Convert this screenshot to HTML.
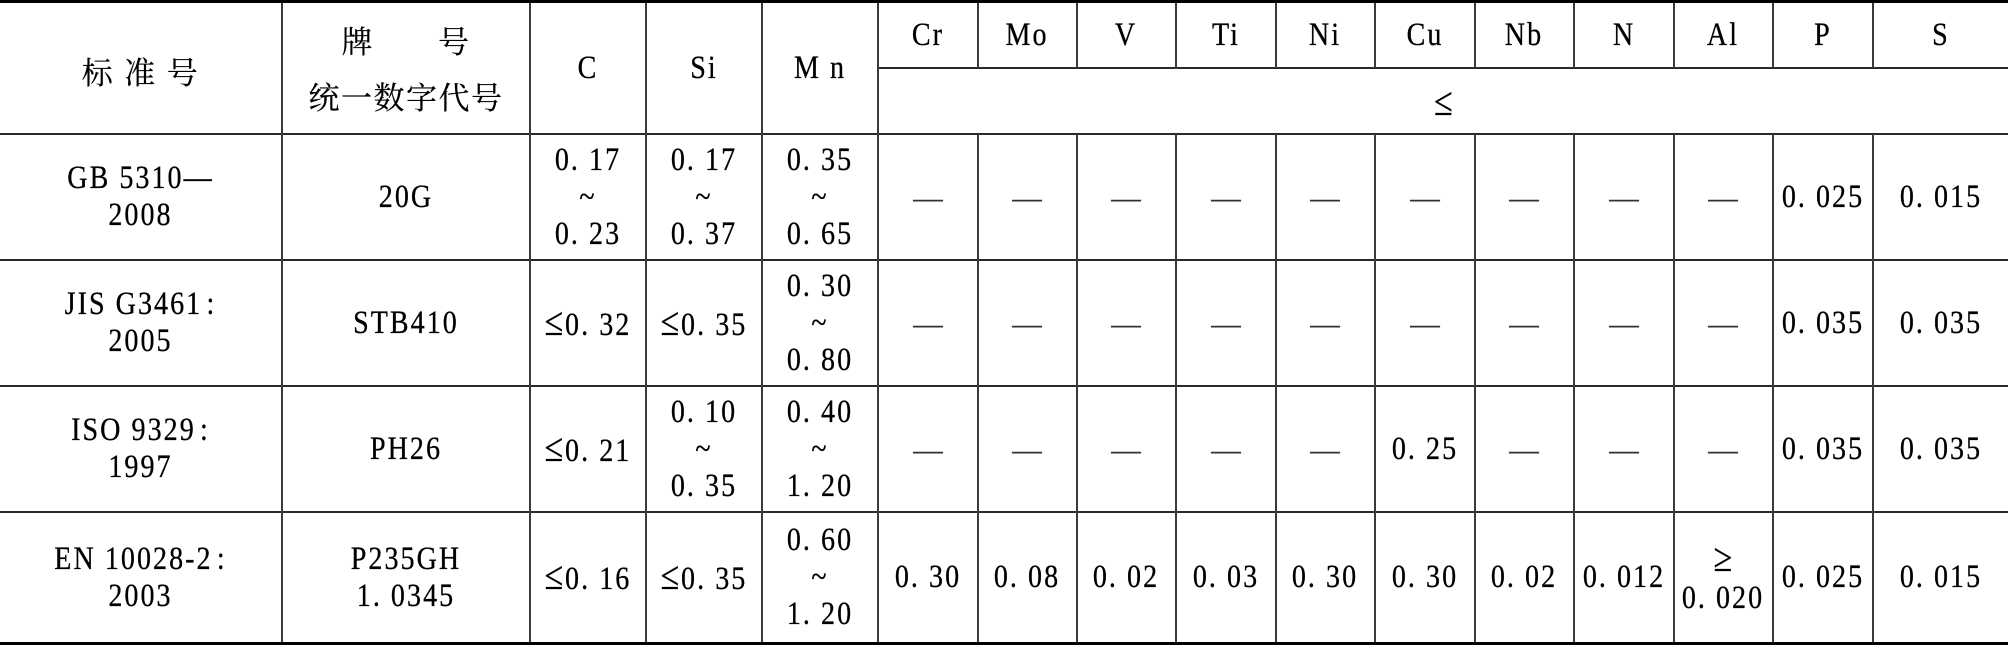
<!DOCTYPE html>
<html>
<head>
<meta charset="utf-8">
<style>
html,body{margin:0;padding:0;background:#fff;}
body{width:2008px;height:645px;position:relative;overflow:hidden;}
.h{position:absolute;background:#2a2a2a;height:2px;}
.v{position:absolute;background:#3a3a3a;width:2px;}
.c{position:absolute;display:flex;align-items:center;justify-content:center;text-align:center;
   font-family:"Liberation Serif","Noto Serif CJK SC",serif;font-size:33px;letter-spacing:2.4px;
   line-height:37px;color:#000;white-space:nowrap;transform:scaleX(0.85);transform-origin:50% 50%;
   -webkit-text-stroke:0.3px #000;}
.cj{font-family:"Noto Serif CJK SC","Noto Sans CJK SC",serif;font-size:31px;letter-spacing:1.5px;line-height:56px;transform:none;-webkit-text-stroke:0.2px #000;}
.le{font-family:"Liberation Serif",serif;font-size:40px;margin-right:2px;letter-spacing:0;}
.col{margin-left:5px;}
.d{color:#333;font-size:35px;letter-spacing:0;-webkit-text-stroke:0;}
</style>
</head>
<body>
<!-- horizontal lines -->
<div class="h" style="left:0;top:0;width:2008px;height:3px;background:#000;"></div>
<div class="h" style="left:878px;top:67px;width:1130px;"></div>
<div class="h" style="left:0;top:133px;width:2008px;"></div>
<div class="h" style="left:0;top:259px;width:2008px;"></div>
<div class="h" style="left:0;top:385px;width:2008px;"></div>
<div class="h" style="left:0;top:511px;width:2008px;"></div>
<div class="h" style="left:0;top:642px;width:2008px;height:3px;background:#000;"></div>

<!-- full-height verticals -->
<div class="v" style="left:281px;top:3px;height:639px;"></div>
<div class="v" style="left:529px;top:3px;height:639px;"></div>
<div class="v" style="left:645px;top:3px;height:639px;"></div>
<div class="v" style="left:761px;top:3px;height:639px;"></div>
<div class="v" style="left:877px;top:3px;height:639px;"></div>
<!-- element verticals (top part) -->
<div class="v" style="left:977px;top:3px;height:65px;"></div>
<div class="v" style="left:1076px;top:3px;height:65px;"></div>
<div class="v" style="left:1175px;top:3px;height:65px;"></div>
<div class="v" style="left:1275px;top:3px;height:65px;"></div>
<div class="v" style="left:1374px;top:3px;height:65px;"></div>
<div class="v" style="left:1474px;top:3px;height:65px;"></div>
<div class="v" style="left:1573px;top:3px;height:65px;"></div>
<div class="v" style="left:1673px;top:3px;height:65px;"></div>
<div class="v" style="left:1772px;top:3px;height:65px;"></div>
<div class="v" style="left:1872px;top:3px;height:65px;"></div>
<!-- element verticals (body part) -->
<div class="v" style="left:977px;top:134px;height:508px;"></div>
<div class="v" style="left:1076px;top:134px;height:508px;"></div>
<div class="v" style="left:1175px;top:134px;height:508px;"></div>
<div class="v" style="left:1275px;top:134px;height:508px;"></div>
<div class="v" style="left:1374px;top:134px;height:508px;"></div>
<div class="v" style="left:1474px;top:134px;height:508px;"></div>
<div class="v" style="left:1573px;top:134px;height:508px;"></div>
<div class="v" style="left:1673px;top:134px;height:508px;"></div>
<div class="v" style="left:1772px;top:134px;height:508px;"></div>
<div class="v" style="left:1872px;top:134px;height:508px;"></div>

<!-- header -->
<div class="c cj" style="left:0;top:3px;width:281px;height:136px;"><span>标<span style="display:inline-block;width:10px"></span>准<span style="display:inline-block;width:10px"></span>号</span></div>
<div class="c cj" style="left:283px;top:3px;width:246px;height:130px;"><span>牌<span style="display:inline-block;width:64px"></span>号<br>统一数字代号</span></div>
<div class="c" style="left:531px;top:3px;width:114px;height:130px;">C</div>
<div class="c" style="left:647px;top:3px;width:114px;height:130px;">Si</div>
<div class="c" style="left:763px;top:3px;width:114px;height:130px;">M n</div>

<div class="c" style="left:879px;top:3px;width:98px;height:64px;">Cr</div>
<div class="c" style="left:978px;top:3px;width:98px;height:64px;">Mo</div>
<div class="c" style="left:1077px;top:3px;width:98px;height:64px;">V</div>
<div class="c" style="left:1177px;top:3px;width:98px;height:64px;">Ti</div>
<div class="c" style="left:1276px;top:3px;width:98px;height:64px;">Ni</div>
<div class="c" style="left:1376px;top:3px;width:98px;height:64px;">Cu</div>
<div class="c" style="left:1475px;top:3px;width:98px;height:64px;">Nb</div>
<div class="c" style="left:1575px;top:3px;width:98px;height:64px;">N</div>
<div class="c" style="left:1674px;top:3px;width:98px;height:64px;">Al</div>
<div class="c" style="left:1774px;top:3px;width:98px;height:64px;">P</div>
<div class="c" style="left:1874px;top:3px;width:134px;height:64px;">S</div>
<div class="c" style="left:879px;top:69px;width:1129px;height:64px;"><span class="le" style="margin:0">≤</span></div>

<!-- row 1 -->
<div class="c" style="left:0;top:135px;width:281px;height:124px;">GB 5310—<br>2008</div>
<div class="c" style="left:283px;top:135px;width:246px;height:124px;">20G</div>
<div class="c" style="left:531px;top:135px;width:114px;height:124px;">0. 17<br>~<br>0. 23</div>
<div class="c" style="left:647px;top:135px;width:114px;height:124px;">0. 17<br>~<br>0. 37</div>
<div class="c" style="left:763px;top:135px;width:114px;height:124px;">0. 35<br>~<br>0. 65</div>
<div class="c d" style="left:879px;top:135px;width:98px;height:124px;">—</div>
<div class="c d" style="left:978px;top:135px;width:98px;height:124px;">—</div>
<div class="c d" style="left:1077px;top:135px;width:98px;height:124px;">—</div>
<div class="c d" style="left:1177px;top:135px;width:98px;height:124px;">—</div>
<div class="c d" style="left:1276px;top:135px;width:98px;height:124px;">—</div>
<div class="c d" style="left:1376px;top:135px;width:98px;height:124px;">—</div>
<div class="c d" style="left:1475px;top:135px;width:98px;height:124px;">—</div>
<div class="c d" style="left:1575px;top:135px;width:98px;height:124px;">—</div>
<div class="c d" style="left:1674px;top:135px;width:98px;height:124px;">—</div>
<div class="c" style="left:1774px;top:135px;width:98px;height:124px;">0. 025</div>
<div class="c" style="left:1874px;top:135px;width:134px;height:124px;">0. 015</div>

<!-- row 2 -->
<div class="c" style="left:0;top:261px;width:281px;height:124px;"><span>JIS G3461<span class="col">:</span><br>2005</span></div>
<div class="c" style="left:283px;top:261px;width:246px;height:124px;">STB410</div>
<div class="c" style="left:531px;top:261px;width:114px;height:124px;"><span><span class="le">≤</span>0. 32</span></div>
<div class="c" style="left:647px;top:261px;width:114px;height:124px;"><span><span class="le">≤</span>0. 35</span></div>
<div class="c" style="left:763px;top:261px;width:114px;height:124px;">0. 30<br>~<br>0. 80</div>
<div class="c d" style="left:879px;top:261px;width:98px;height:124px;">—</div>
<div class="c d" style="left:978px;top:261px;width:98px;height:124px;">—</div>
<div class="c d" style="left:1077px;top:261px;width:98px;height:124px;">—</div>
<div class="c d" style="left:1177px;top:261px;width:98px;height:124px;">—</div>
<div class="c d" style="left:1276px;top:261px;width:98px;height:124px;">—</div>
<div class="c d" style="left:1376px;top:261px;width:98px;height:124px;">—</div>
<div class="c d" style="left:1475px;top:261px;width:98px;height:124px;">—</div>
<div class="c d" style="left:1575px;top:261px;width:98px;height:124px;">—</div>
<div class="c d" style="left:1674px;top:261px;width:98px;height:124px;">—</div>
<div class="c" style="left:1774px;top:261px;width:98px;height:124px;">0. 035</div>
<div class="c" style="left:1874px;top:261px;width:134px;height:124px;">0. 035</div>

<!-- row 3 -->
<div class="c" style="left:0;top:387px;width:281px;height:124px;"><span>ISO 9329<span class="col">:</span><br>1997</span></div>
<div class="c" style="left:283px;top:387px;width:246px;height:124px;">PH26</div>
<div class="c" style="left:531px;top:387px;width:114px;height:124px;"><span><span class="le">≤</span>0. 21</span></div>
<div class="c" style="left:647px;top:387px;width:114px;height:124px;">0. 10<br>~<br>0. 35</div>
<div class="c" style="left:763px;top:387px;width:114px;height:124px;">0. 40<br>~<br>1. 20</div>
<div class="c d" style="left:879px;top:387px;width:98px;height:124px;">—</div>
<div class="c d" style="left:978px;top:387px;width:98px;height:124px;">—</div>
<div class="c d" style="left:1077px;top:387px;width:98px;height:124px;">—</div>
<div class="c d" style="left:1177px;top:387px;width:98px;height:124px;">—</div>
<div class="c d" style="left:1276px;top:387px;width:98px;height:124px;">—</div>
<div class="c" style="left:1376px;top:387px;width:98px;height:124px;">0. 25</div>
<div class="c d" style="left:1475px;top:387px;width:98px;height:124px;">—</div>
<div class="c d" style="left:1575px;top:387px;width:98px;height:124px;">—</div>
<div class="c d" style="left:1674px;top:387px;width:98px;height:124px;">—</div>
<div class="c" style="left:1774px;top:387px;width:98px;height:124px;">0. 035</div>
<div class="c" style="left:1874px;top:387px;width:134px;height:124px;">0. 035</div>

<!-- row 4 -->
<div class="c" style="left:0;top:513px;width:281px;height:129px;"><span>EN 10028-2<span class="col">:</span><br>2003</span></div>
<div class="c" style="left:283px;top:513px;width:246px;height:129px;">P235GH<br>1. 0345</div>
<div class="c" style="left:531px;top:513px;width:114px;height:129px;"><span><span class="le">≤</span>0. 16</span></div>
<div class="c" style="left:647px;top:513px;width:114px;height:129px;"><span><span class="le">≤</span>0. 35</span></div>
<div class="c" style="left:763px;top:513px;width:114px;height:129px;">0. 60<br>~<br>1. 20</div>
<div class="c" style="left:879px;top:513px;width:98px;height:129px;">0. 30</div>
<div class="c" style="left:978px;top:513px;width:98px;height:129px;">0. 08</div>
<div class="c" style="left:1077px;top:513px;width:98px;height:129px;">0. 02</div>
<div class="c" style="left:1177px;top:513px;width:98px;height:129px;">0. 03</div>
<div class="c" style="left:1276px;top:513px;width:98px;height:129px;">0. 30</div>
<div class="c" style="left:1376px;top:513px;width:98px;height:129px;">0. 30</div>
<div class="c" style="left:1475px;top:513px;width:98px;height:129px;">0. 02</div>
<div class="c" style="left:1575px;top:513px;width:98px;height:129px;">0. 012</div>
<div class="c" style="left:1674px;top:513px;width:98px;height:129px;"><span><span class="le" style="margin:0">≥</span><br>0. 020</span></div>
<div class="c" style="left:1774px;top:513px;width:98px;height:129px;">0. 025</div>
<div class="c" style="left:1874px;top:513px;width:134px;height:129px;">0. 015</div>
</body>
</html>
